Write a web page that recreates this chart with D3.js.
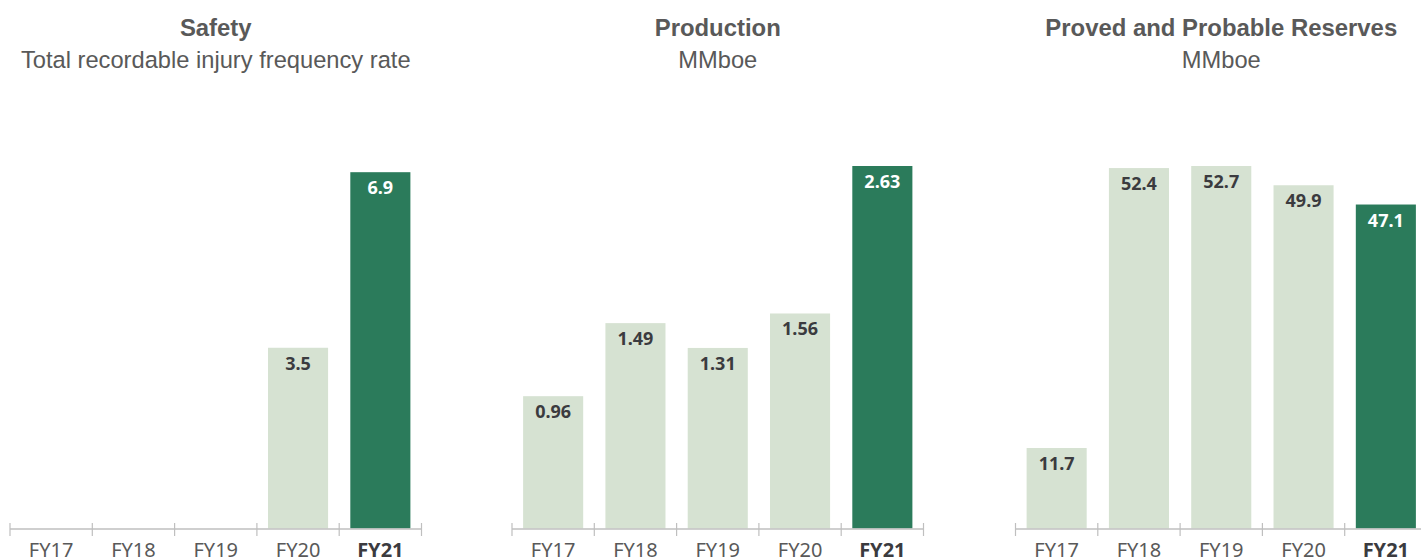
<!DOCTYPE html>
<html>
<head>
<meta charset="utf-8">
<script src="https://cdn.jsdelivr.net/npm/d3@7"></script>
<style>
  html, body { margin: 0; padding: 0; background: #ffffff; }
  svg { display: block; }
  .heading { font-family: 'Liberation Sans', Arial, Helvetica, sans-serif; }
  .num { font-family: 'Noto Sans', 'Open Sans', sans-serif; }
</style>
</head>
<body>
<svg id="chart" width="1421" height="559"></svg>
<script>
// Fiscal years shown on every panel
const years = ["FY17", "FY18", "FY19", "FY20", "FY21"];

// Safety: total recordable injury frequency rate (no data before FY20)
const safetyValues = [null, null, null, 3.5, 6.9];
const safetyLabels = ["", "", "", "3.5", "6.9"];

// Production, MMboe
const productionValues = [0.96, 1.49, 1.31, 1.56, 2.63];
const productionLabels = ["0.96", "1.49", "1.31", "1.56", "2.63"];

// Proved and probable reserves, MMboe
const reservesValues = [11.7, 52.4, 52.7, 49.9, 47.1];
const reservesLabels = ["11.7", "52.4", "52.7", "49.9", "47.1"];

const titles = ["Safety", "Production", "Proved and Probable Reserves"];
const subtitles = ["Total recordable injury frequency rate", "MMboe", "MMboe"];
const currentYear = "FY21";

const panels = [
  { title: titles[0], subtitle: subtitles[0], values: safetyValues, labels: safetyLabels, yMax: 7.02, left: 10 },
  { title: titles[1], subtitle: subtitles[1], values: productionValues, labels: productionLabels, yMax: 2.63, left: 512 },
  { title: titles[2], subtitle: subtitles[2], values: reservesValues, labels: reservesLabels, yMax: 52.7, left: 1015.5 }
];

const panelWidth = 411.5;
const plotTop = 166;
const plotBottom = 528.5;

const lightFill = "#d6e2d2";
const darkFill = "#2b7b5b";
const axisColor = "#bfbfbf";
const titleColor = "#595959";

const svg = d3.select("#chart");

panels.forEach(p => {
  const g = svg.append("g");

  const x = d3.scaleBand()
    .domain(years)
    .range([p.left, p.left + panelWidth])
    .paddingInner(0.27)
    .paddingOuter(0.135);

  const y = d3.scaleLinear()
    .domain([0, p.yMax])
    .range([plotBottom, plotTop]);

  const cx = p.left + panelWidth / 2;

  // Panel heading
  g.append("text")
    .attr("class", "heading")
    .attr("x", cx).attr("y", 36)
    .attr("text-anchor", "middle")
    .attr("font-weight", "bold")
    .attr("font-size", 23.9)
    .attr("fill", titleColor)
    .text(p.title);

  g.append("text")
    .attr("class", "heading")
    .attr("x", cx).attr("y", 68)
    .attr("text-anchor", "middle")
    .attr("font-size", 23.7)
    .attr("fill", titleColor)
    .text(p.subtitle);

  const data = years.map((yr, i) => ({ year: yr, value: p.values[i], label: p.labels[i] }))
    .filter(d => d.value !== null);

  // Bars
  g.selectAll("rect.bar")
    .data(data)
    .join("rect")
    .attr("class", "bar")
    .attr("x", d => x(d.year))
    .attr("width", x.bandwidth())
    .attr("y", d => y(d.value))
    .attr("height", d => y(0) - y(d.value))
    .attr("fill", d => d.year === currentYear ? darkFill : lightFill);

  // Value labels inside the top of each bar
  g.selectAll("text.value")
    .data(data)
    .join("text")
    .attr("class", "value num")
    .attr("x", d => x(d.year) + x.bandwidth() / 2)
    .attr("y", d => y(d.value) + 22)
    .attr("text-anchor", "middle")
    .attr("font-weight", "bold")
    .attr("font-size", 18)
    .attr("fill", d => d.year === currentYear ? "#ffffff" : "#3b3b3f")
    .text(d => d.label);

  // Category axis with ticks at band boundaries
  const axisG = g.append("g").attr("transform", `translate(0,${plotBottom + 0.5})`);
  axisG.append("line")
    .attr("x1", p.left).attr("x2", p.left + panelWidth)
    .attr("stroke", axisColor).attr("stroke-width", 1.5);

  const step = x.step();
  const boundaries = d3.range(years.length + 1).map(i => x(years[0]) - x.paddingInner() * step / 2 + i * step);
  axisG.selectAll("line.tick")
    .data(boundaries)
    .join("line")
    .attr("class", "tick")
    .attr("x1", d => d).attr("x2", d => d)
    .attr("y1", -6).attr("y2", 7)
    .attr("stroke", axisColor).attr("stroke-width", 1.2);

  axisG.selectAll("text.cat")
    .data(years)
    .join("text")
    .attr("class", "cat num")
    .attr("x", d => x(d) + x.bandwidth() / 2)
    .attr("y", 27.5)
    .attr("text-anchor", "middle")
    .attr("font-size", 20)
    .attr("font-weight", d => d === currentYear ? "bold" : "normal")
    .attr("fill", d => d === currentYear ? "#3b3b3f" : "#595959")
    .text(d => d);
});
</script>
</body>
</html>
